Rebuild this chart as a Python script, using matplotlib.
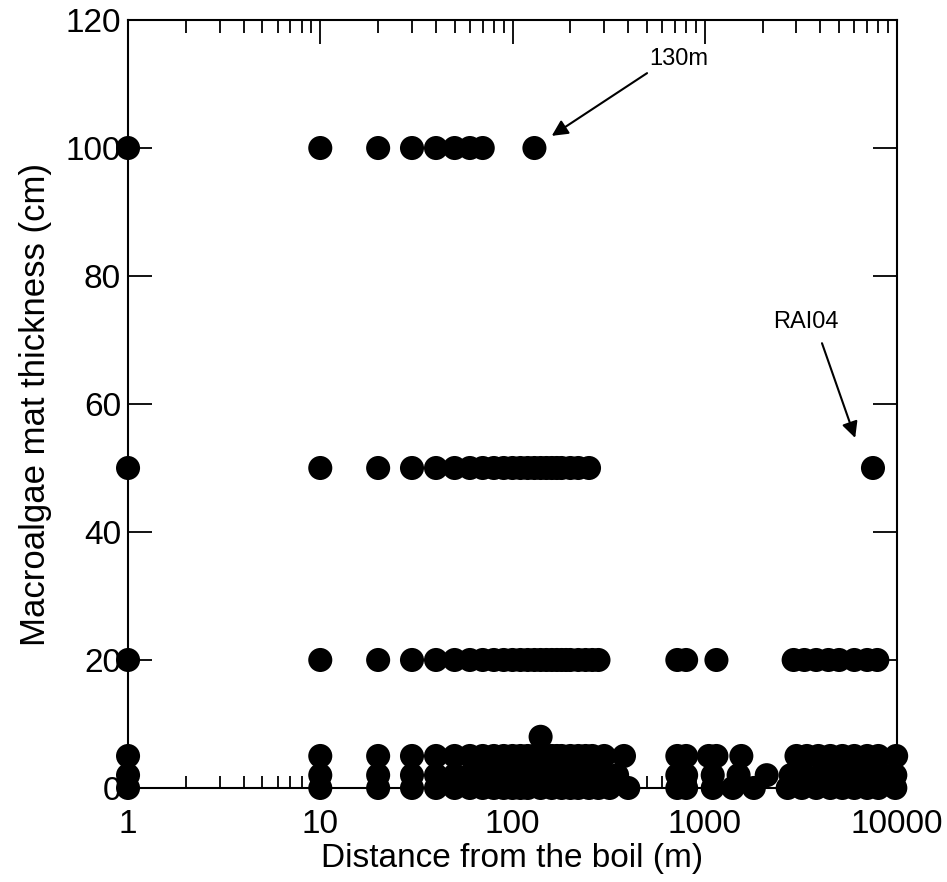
import matplotlib
matplotlib.use("Agg")
import matplotlib.pyplot as plt
from matplotlib.ticker import FixedLocator, LogLocator, NullFormatter, FixedFormatter

plt.rcParams["font.family"] = ["Liberation Sans", "DejaVu Sans"]

# distance from the boil (m) for each mat-thickness class (cm)
dist_100 = [1, 10, 20, 30, 40, 50, 60, 70, 130]
dist_50 = [1, 10, 20, 30, 40, 50, 60, 70, 80, 90, 100, 110, 120, 130, 140,
           150, 160, 170, 180, 200, 220, 250, 7500]
dist_20 = [1, 10, 20, 30, 40, 50, 60, 70, 80, 90, 100, 110, 120, 130, 140,
           150, 160, 170, 180, 190, 200, 220, 240, 260, 280,
           720, 800, 1150, 2900, 3300, 3800, 4400, 5000, 6000, 7000, 7900]
dist_8 = [140]
dist_5 = [1, 10, 20, 30, 40, 50, 60, 70, 80, 90, 100, 110, 120, 130, 150,
          160, 170, 180, 200, 220, 240, 260, 300, 380,
          720, 800, 1050, 1150, 1550, 3000, 3400, 3900, 4500, 5200, 6000, 7000, 8000, 9900]
dist_2 = [1, 10, 20, 30, 40, 50, 60, 70, 80, 90, 100, 120, 140, 160, 180,
          200, 230, 260, 300, 350, 720, 800, 1100, 1500, 2100, 2800, 3300,
          4000, 5000, 6000, 7000, 8500, 9800]
dist_0 = [1, 10, 20, 30, 40, 50, 60, 70, 80, 90, 100, 110, 120, 140, 160,
          180, 200, 220, 250, 280, 320, 400, 720, 800, 1100, 1400, 1800,
          2700, 3200, 3800, 4500, 5200, 6000, 7000, 8000, 9800]

groups = [(dist_100, 100), (dist_50, 50), (dist_20, 20), (dist_8, 8),
          (dist_5, 5), (dist_2, 2), (dist_0, 0)]

fig = plt.figure(figsize=(9.47, 8.82), dpi=100)
ax = fig.add_axes([0.1352, 0.1066, 0.812, 0.8707])

for xs, thick in groups:
    ax.scatter(xs, [thick] * len(xs), s=300, c="black", edgecolors="none",
               clip_on=False, zorder=3)

ax.set_xscale("log")
ax.set_xlim(1, 10000)
ax.set_ylim(0, 120)

xticks = [1, 10, 100, 1000, 10000]
ax.xaxis.set_major_locator(FixedLocator(xticks))
ax.xaxis.set_major_formatter(FixedFormatter([str(v) for v in xticks]))
ax.xaxis.set_minor_locator(LogLocator(base=10, subs=range(2, 10)))
ax.xaxis.set_minor_formatter(NullFormatter())
ax.set_yticks([0, 20, 40, 60, 80, 100, 120])

ax.tick_params(which="both", direction="in", top=True, right=True,
               labelsize=24, width=1.3, colors="black")
ax.tick_params(which="major", length=17, pad=5)
ax.tick_params(axis="x", which="major", pad=15)
ax.tick_params(which="minor", length=9)
for sp in ax.spines.values():
    sp.set_linewidth(1.5)

ax.set_xlabel("Distance from the boil (m)", fontsize=24, labelpad=2)
ax.set_ylabel("Macroalgae mat thickness (cm)", fontsize=25, labelpad=10)

arrow = dict(arrowstyle="-|>", color="black", lw=1.5, mutation_scale=24,
             shrinkA=0, shrinkB=0)
ax.text(735, 113.9, "130m", fontsize=17, ha="center", va="center")
ax.annotate("", xy=(160, 101.9), xytext=(501, 111.7), arrowprops=arrow)
ax.text(3365, 72.8, "RAI04", fontsize=17, ha="center", va="center")
ax.annotate("", xy=(6060, 54.7), xytext=(4072, 69.5), arrowprops=arrow)

fig.savefig("out.png", dpi=100)
